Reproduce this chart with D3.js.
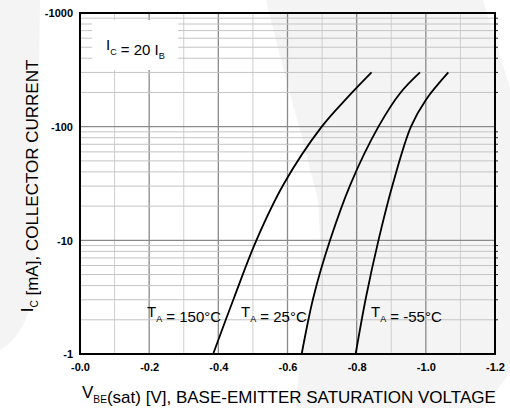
<!DOCTYPE html>
<html><head><meta charset="utf-8">
<script src="https://cdn.jsdelivr.net/npm/d3@7"></script>
<style>
html,body{margin:0;padding:0;background:#fff;}
svg{display:block;font-family:"Liberation Sans",Arial,sans-serif;}
</style></head>
<body>
<svg id="c" width="510" height="408"></svg>
<script>
// ---- data ----
const series = ["150", "25", "-55"];
const vbe150 = [-0.385, -0.446, -0.510, -0.590, -0.699, -0.773, -0.843];
const ic150  = [-1, -3.16, -10, -31.6, -100, -180, -300];
const vbe25  = [-0.641, -0.675, -0.723, -0.783, -0.863, -0.925, -0.983];
const ic25   = [-1, -3.16, -10, -31.6, -100, -196, -300];
const vbeM55 = [-0.797, -0.827, -0.863, -0.905, -0.957, -1.000, -1.065];
const icM55  = [-1, -3.16, -10, -31.6, -100, -172, -300];
const xTickValues = [0, -0.2, -0.4, -0.6, -0.8, -1.0, -1.2];
const xTickLabels = ["-0.0", "-0.2", "-0.4", "-0.6", "-0.8", "-1.0", "-1.2"];
const yTickValues = [-1, -10, -100, -1000];
const yTickLabels = ["-1", "-10", "-100", "-1000"];

const svg = d3.select("#c");
const L = 80, R = 495, T = 13, B = 354;
const x = d3.scaleLinear().domain([0, -1.2]).range([L, R]);
const y = d3.scaleLog().domain([-1, -1000]).range([B, T]);

// faint watermark background
const wm = "#f4f4f4";
svg.append("path").attr("fill", wm)
  .attr("d", "M0,0 L40,0 L38,150 L34,290 Q26,335 0,350 Z");
svg.append("path").attr("fill", wm)
  .attr("d", "M266,0 L483,0 L510,88 L510,372 L484,408 L296,408 L300,354 L312,310 L321,255 L318,200 L300,130 L281,60 Z");

// grid
const g = svg.append("g");
const minorX = d3.range(1, 12).map(i => -i / 10);
minorX.forEach((v, i) => {
  const major = (i % 2 === 1);
  g.append("line").attr("x1", x(v)).attr("x2", x(v)).attr("y1", T).attr("y2", B)
    .attr("stroke", major ? "#8a8a8a" : "#cfcfcf").attr("stroke-width", major ? 1.3 : 1);
});
[1, 10, 100].forEach(d => {
  for (let m = 2; m <= 9; m++) {
    const yy = y(-d * m);
    g.append("line").attr("x1", L).attr("x2", R).attr("y1", yy).attr("y2", yy)
      .attr("stroke", "#c4c4c4").attr("stroke-width", 1);
    g.append("line").attr("x1", R).attr("x2", R + 3).attr("y1", yy).attr("y2", yy)
      .attr("stroke", "#222").attr("stroke-width", 1);
  }
});
[-10, -100].forEach(v => {
  g.append("line").attr("x1", L).attr("x2", R).attr("y1", y(v)).attr("y2", y(v))
    .attr("stroke", "#8a8a8a").attr("stroke-width", 1.3);
});

// label box
svg.append("rect").attr("x", 92).attr("y", 20).attr("width", 86).attr("height", 50).attr("fill", "#fff");

// frame
svg.append("rect").attr("x", L).attr("y", T).attr("width", R - L).attr("height", B - T)
  .attr("fill", "none").attr("stroke", "#000").attr("stroke-width", 2);

// axes
const xa = svg.append("g").attr("transform", `translate(0,${B})`)
  .call(d3.axisBottom(x).tickValues(xTickValues).tickSize(0).tickPadding(0)
    .tickFormat((d, i) => xTickLabels[i]));
xa.select(".domain").remove();
xa.selectAll("text").attr("y", 17).attr("dy", 0).attr("font-size", 11).attr("font-weight", "bold")
  .attr("fill", "#000").attr("font-family", "Liberation Sans, Arial, sans-serif");

const ya = svg.append("g").attr("transform", `translate(${L},0)`)
  .call(d3.axisLeft(y).tickValues(yTickValues).tickSize(0).tickPadding(7)
    .tickFormat((d, i) => yTickLabels[i]));
ya.select(".domain").remove();
ya.selectAll("text").attr("font-size", 11).attr("font-weight", "bold").attr("fill", "#000")
  .attr("dy", "0.36em").attr("font-family", "Liberation Sans, Arial, sans-serif");

// curves
const line = d3.line().x(d => x(d[0])).y(d => y(d[1])).curve(d3.curveCatmullRom.alpha(0.5));
const curves = [d3.zip(vbe150, ic150), d3.zip(vbe25, ic25), d3.zip(vbeM55, icM55)];
svg.append("g").selectAll("path").data(curves).join("path")
  .attr("d", line).attr("fill", "none").attr("stroke", "#000").attr("stroke-width", 1.8);

// texts with subscripts
function subText(xp, yp, parts, size, rot) {
  const t = svg.append("text").attr("font-size", size).attr("fill", "#000");
  if (rot) t.attr("transform", `translate(${xp},${yp}) rotate(-90)`).attr("text-anchor", "middle");
  else t.attr("x", xp).attr("y", yp);
  parts.forEach(p => {
    if (p.sub) {
      t.append("tspan").attr("font-size", size * 0.6).attr("dy", size * 0.3).text(p.sub);
      t.append("tspan").attr("dy", -size * 0.3).text("");
    } else {
      t.append("tspan").text(p.t);
    }
  });
  return t;
}
subText(106, 50, [{t: "I"}, {sub: "C"}, {t: " = 20 I"}, {sub: "B"}], 15);
const labelX = [147, 241, 371];
series.forEach((s, i) => {
  subText(labelX[i], 317, [{t: "T"}, {sub: "A"}, {t: " = " + s + "°C"}], 15);
});
subText(82, 398, [{t: "V"}, {sub: "BE"}, {t: "(sat) [V], BASE-EMITTER SATURATION VOLTAGE"}], 17);
subText(33, 186, [{t: "I"}, {sub: "C"}, {t: " [mA], COLLECTOR CURRENT"}], 17, true);
</script>
</body></html>
